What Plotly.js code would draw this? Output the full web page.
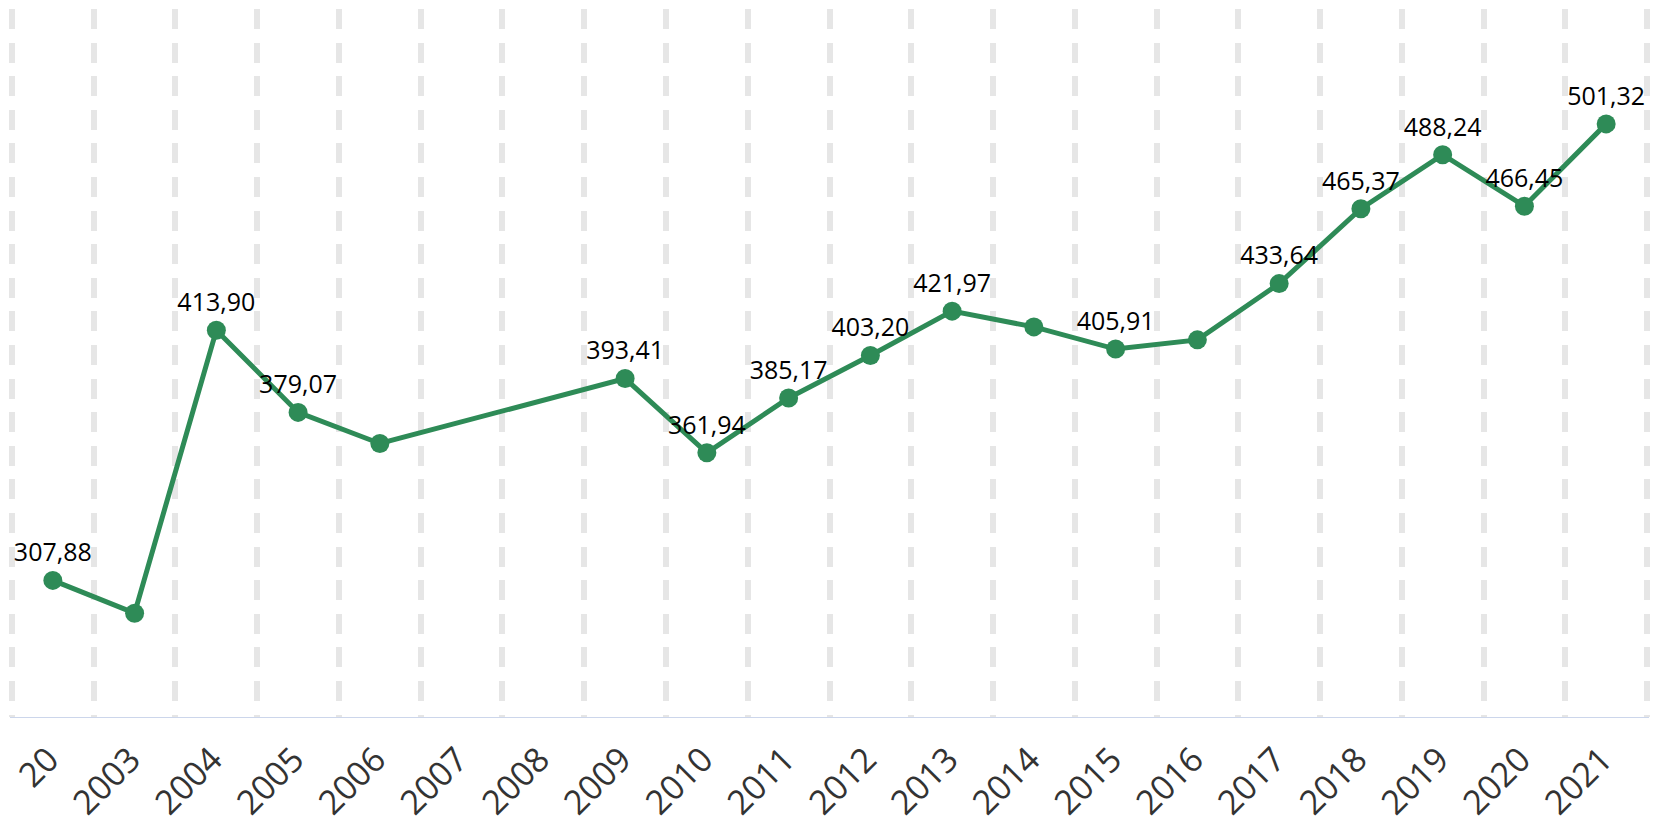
<!DOCTYPE html>
<html>
<head>
<meta charset="utf-8">
<script src="https://cdn.plot.ly/plotly-3.0.1.min.js"></script>
<style>html,body{margin:0;padding:0;background:#fff;}#chart{width:1655px;height:825px;}</style>
</head>
<body>
<div id="chart"></div>
<script>
// Data (2007 and 2008 have no value)
var years = ['2002','2003','2004','2005','2006','2007','2008','2009','2010','2011','2012','2013','2014','2015','2016','2017','2018','2019','2020','2021'];
var tickLabels = ['20','2003','2004','2005','2006','2007','2008','2009','2010','2011','2012','2013','2014','2015','2016','2017','2018','2019','2020','2021'];
var values = [307.88, 294.0, 413.90, 379.07, 365.9, null, null, 393.41, 361.94, 385.17, 403.20, 421.97, 415.3, 405.91, 409.8, 433.64, 465.37, 488.24, 466.45, 501.32];
var pointLabels = ['307,88','','413,90','379,07','','','','393,41','361,94','385,17','403,20','421,97','','405,91','','433,64','465,37','488,24','466,45','501,32'];

var trace = {
  type: 'scatter',
  mode: 'lines+markers+text',
  x: years,
  y: values,
  text: pointLabels,
  textposition: 'top center',
  textfont: {family: 'Open Sans, sans-serif', size: 25, color: '#000000'},
  connectgaps: true,
  line: {color: '#2e8b57', width: 5},
  marker: {color: '#2e8b57', size: 19},
  hoverinfo: 'skip',
  cliponaxis: false
};

var layout = {
  width: 1655,
  height: 825,
  margin: {l: 10, r: 6, t: 9, b: 108},
  paper_bgcolor: '#ffffff',
  plot_bgcolor: '#ffffff',
  showlegend: false,
  xaxis: {
    type: 'category',
    range: [-0.524, 19.524],
    tickmode: 'array',
    tickvals: years,
    ticktext: tickLabels,
    tickson: 'boundaries',
    ticks: '',
    tickangle: -45,
    ticklabelstandoff: 8,
    ticklabelshift: -4,
    tickfont: {family: 'Open Sans, sans-serif', size: 34, color: '#333333'},
    showgrid: true,
    gridcolor: '#e6e6e6',
    gridwidth: 6,
    griddash: '20px,13.6px',
    showline: true,
    linecolor: '#ccd6eb',
    linewidth: 1,
    zeroline: false,
    fixedrange: true
  },
  yaxis: {
    range: [250, 550],
    showgrid: false,
    showticklabels: false,
    showline: false,
    zeroline: false,
    ticks: '',
    fixedrange: true
  }
};

Plotly.newPlot('chart', [trace], layout, {displayModeBar: false, staticPlot: true});
</script>
</body>
</html>
